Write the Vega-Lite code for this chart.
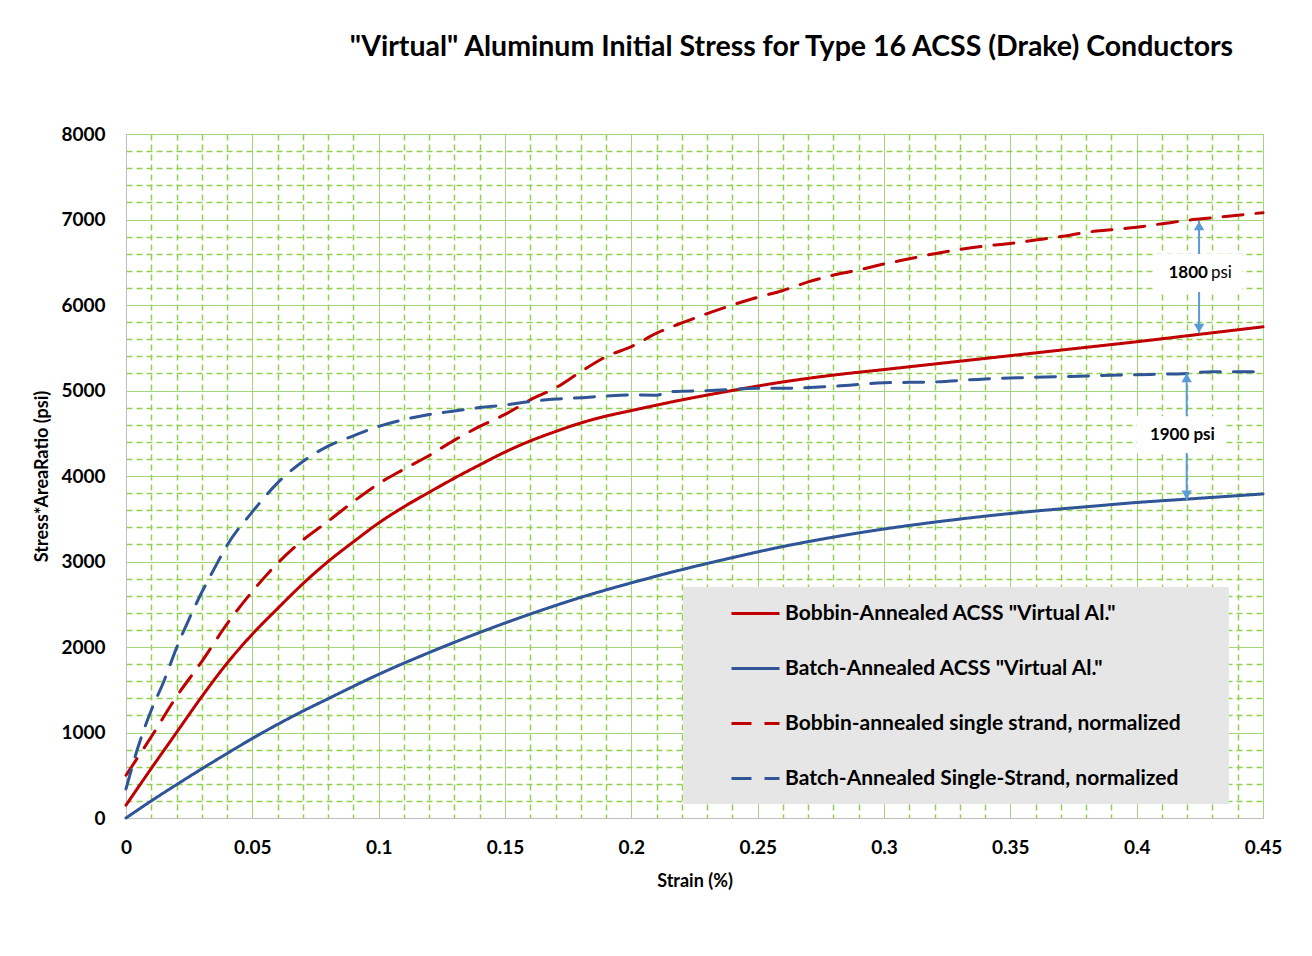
{
  "$schema": "https://vega.github.io/schema/vega-lite/v6.json",
  "width": 1137,
  "height": 684,
  "autosize": {"type": "none"},
  "padding": {"left": 126, "top": 134, "right": 49, "bottom": 138},
  "background": "white",
  "config": {
    "font": "Lato",
    "view": {"stroke": "#BFBFBF", "strokeWidth": 1}
  },
  "title": {
    "text": "\"Virtual\"  Aluminum Initial Stress for Type 16 ACSS (Drake) Conductors",
    "font": "Lato",
    "fontSize": 28.5,
    "fontWeight": "bold",
    "color": "#000000",
    "anchor": "middle",
    "frame": "group",
    "dx": 97,
    "offset": 41,
    "baseline": "alphabetic"
  },
  "datasets": {
    "legendBox": [
      {"strain": 0.2205, "strain2": 0.4365, "stress": 2702, "stress2": 164}
    ],
    "curves": [
      {"series": "Bobbin-Annealed ACSS \"Virtual Al.\"", "strain": 0, "stress": 150},
      {"series": "Bobbin-Annealed ACSS \"Virtual Al.\"", "strain": 0.01, "stress": 580},
      {"series": "Bobbin-Annealed ACSS \"Virtual Al.\"", "strain": 0.02, "stress": 1000},
      {"series": "Bobbin-Annealed ACSS \"Virtual Al.\"", "strain": 0.03, "stress": 1420},
      {"series": "Bobbin-Annealed ACSS \"Virtual Al.\"", "strain": 0.04, "stress": 1810},
      {"series": "Bobbin-Annealed ACSS \"Virtual Al.\"", "strain": 0.05, "stress": 2150},
      {"series": "Bobbin-Annealed ACSS \"Virtual Al.\"", "strain": 0.06, "stress": 2450},
      {"series": "Bobbin-Annealed ACSS \"Virtual Al.\"", "strain": 0.07, "stress": 2740},
      {"series": "Bobbin-Annealed ACSS \"Virtual Al.\"", "strain": 0.08, "stress": 3000},
      {"series": "Bobbin-Annealed ACSS \"Virtual Al.\"", "strain": 0.09, "stress": 3230},
      {"series": "Bobbin-Annealed ACSS \"Virtual Al.\"", "strain": 0.1, "stress": 3450},
      {"series": "Bobbin-Annealed ACSS \"Virtual Al.\"", "strain": 0.11, "stress": 3640},
      {"series": "Bobbin-Annealed ACSS \"Virtual Al.\"", "strain": 0.12, "stress": 3810},
      {"series": "Bobbin-Annealed ACSS \"Virtual Al.\"", "strain": 0.13, "stress": 3975},
      {"series": "Bobbin-Annealed ACSS \"Virtual Al.\"", "strain": 0.14, "stress": 4130},
      {"series": "Bobbin-Annealed ACSS \"Virtual Al.\"", "strain": 0.15, "stress": 4280},
      {"series": "Bobbin-Annealed ACSS \"Virtual Al.\"", "strain": 0.16, "stress": 4410},
      {"series": "Bobbin-Annealed ACSS \"Virtual Al.\"", "strain": 0.17, "stress": 4520},
      {"series": "Bobbin-Annealed ACSS \"Virtual Al.\"", "strain": 0.18, "stress": 4620},
      {"series": "Bobbin-Annealed ACSS \"Virtual Al.\"", "strain": 0.19, "stress": 4700},
      {"series": "Bobbin-Annealed ACSS \"Virtual Al.\"", "strain": 0.2, "stress": 4765},
      {"series": "Bobbin-Annealed ACSS \"Virtual Al.\"", "strain": 0.22, "stress": 4890},
      {"series": "Bobbin-Annealed ACSS \"Virtual Al.\"", "strain": 0.24, "stress": 5000},
      {"series": "Bobbin-Annealed ACSS \"Virtual Al.\"", "strain": 0.26, "stress": 5100},
      {"series": "Bobbin-Annealed ACSS \"Virtual Al.\"", "strain": 0.28, "stress": 5180},
      {"series": "Bobbin-Annealed ACSS \"Virtual Al.\"", "strain": 0.3, "stress": 5245},
      {"series": "Bobbin-Annealed ACSS \"Virtual Al.\"", "strain": 0.32, "stress": 5310},
      {"series": "Bobbin-Annealed ACSS \"Virtual Al.\"", "strain": 0.34, "stress": 5375},
      {"series": "Bobbin-Annealed ACSS \"Virtual Al.\"", "strain": 0.36, "stress": 5440},
      {"series": "Bobbin-Annealed ACSS \"Virtual Al.\"", "strain": 0.38, "stress": 5505},
      {"series": "Bobbin-Annealed ACSS \"Virtual Al.\"", "strain": 0.4, "stress": 5570},
      {"series": "Bobbin-Annealed ACSS \"Virtual Al.\"", "strain": 0.42, "stress": 5640},
      {"series": "Bobbin-Annealed ACSS \"Virtual Al.\"", "strain": 0.45, "stress": 5745},

      {"series": "Batch-Annealed ACSS \"Virtual Al.\"", "strain": 0, "stress": 0},
      {"series": "Batch-Annealed ACSS \"Virtual Al.\"", "strain": 0.01, "stress": 200},
      {"series": "Batch-Annealed ACSS \"Virtual Al.\"", "strain": 0.02, "stress": 390},
      {"series": "Batch-Annealed ACSS \"Virtual Al.\"", "strain": 0.03, "stress": 575},
      {"series": "Batch-Annealed ACSS \"Virtual Al.\"", "strain": 0.04, "stress": 755},
      {"series": "Batch-Annealed ACSS \"Virtual Al.\"", "strain": 0.05, "stress": 930},
      {"series": "Batch-Annealed ACSS \"Virtual Al.\"", "strain": 0.06, "stress": 1095},
      {"series": "Batch-Annealed ACSS \"Virtual Al.\"", "strain": 0.07, "stress": 1250},
      {"series": "Batch-Annealed ACSS \"Virtual Al.\"", "strain": 0.08, "stress": 1395},
      {"series": "Batch-Annealed ACSS \"Virtual Al.\"", "strain": 0.09, "stress": 1540},
      {"series": "Batch-Annealed ACSS \"Virtual Al.\"", "strain": 0.1, "stress": 1680},
      {"series": "Batch-Annealed ACSS \"Virtual Al.\"", "strain": 0.12, "stress": 1935},
      {"series": "Batch-Annealed ACSS \"Virtual Al.\"", "strain": 0.14, "stress": 2170},
      {"series": "Batch-Annealed ACSS \"Virtual Al.\"", "strain": 0.16, "stress": 2385},
      {"series": "Batch-Annealed ACSS \"Virtual Al.\"", "strain": 0.18, "stress": 2580},
      {"series": "Batch-Annealed ACSS \"Virtual Al.\"", "strain": 0.2, "stress": 2750},
      {"series": "Batch-Annealed ACSS \"Virtual Al.\"", "strain": 0.22, "stress": 2905},
      {"series": "Batch-Annealed ACSS \"Virtual Al.\"", "strain": 0.24, "stress": 3045},
      {"series": "Batch-Annealed ACSS \"Virtual Al.\"", "strain": 0.26, "stress": 3175},
      {"series": "Batch-Annealed ACSS \"Virtual Al.\"", "strain": 0.28, "stress": 3285},
      {"series": "Batch-Annealed ACSS \"Virtual Al.\"", "strain": 0.3, "stress": 3380},
      {"series": "Batch-Annealed ACSS \"Virtual Al.\"", "strain": 0.32, "stress": 3460},
      {"series": "Batch-Annealed ACSS \"Virtual Al.\"", "strain": 0.34, "stress": 3530},
      {"series": "Batch-Annealed ACSS \"Virtual Al.\"", "strain": 0.36, "stress": 3590},
      {"series": "Batch-Annealed ACSS \"Virtual Al.\"", "strain": 0.38, "stress": 3640},
      {"series": "Batch-Annealed ACSS \"Virtual Al.\"", "strain": 0.4, "stress": 3690},
      {"series": "Batch-Annealed ACSS \"Virtual Al.\"", "strain": 0.42, "stress": 3730},
      {"series": "Batch-Annealed ACSS \"Virtual Al.\"", "strain": 0.45, "stress": 3790},

      {"series": "Bobbin-annealed single strand, normalized", "strain": 0, "stress": 500},
      {"series": "Bobbin-annealed single strand, normalized", "strain": 0.01, "stress": 950},
      {"series": "Bobbin-annealed single strand, normalized", "strain": 0.02, "stress": 1420},
      {"series": "Bobbin-annealed single strand, normalized", "strain": 0.03, "stress": 1830},
      {"series": "Bobbin-annealed single strand, normalized", "strain": 0.04, "stress": 2270},
      {"series": "Bobbin-annealed single strand, normalized", "strain": 0.05, "stress": 2650},
      {"series": "Bobbin-annealed single strand, normalized", "strain": 0.06, "stress": 2980},
      {"series": "Bobbin-annealed single strand, normalized", "strain": 0.07, "stress": 3250},
      {"series": "Bobbin-annealed single strand, normalized", "strain": 0.08, "stress": 3470},
      {"series": "Bobbin-annealed single strand, normalized", "strain": 0.09, "stress": 3700},
      {"series": "Bobbin-annealed single strand, normalized", "strain": 0.1, "stress": 3910},
      {"series": "Bobbin-annealed single strand, normalized", "strain": 0.11, "stress": 4080},
      {"series": "Bobbin-annealed single strand, normalized", "strain": 0.12, "stress": 4240},
      {"series": "Bobbin-annealed single strand, normalized", "strain": 0.13, "stress": 4420},
      {"series": "Bobbin-annealed single strand, normalized", "strain": 0.14, "stress": 4580},
      {"series": "Bobbin-annealed single strand, normalized", "strain": 0.15, "stress": 4720},
      {"series": "Bobbin-annealed single strand, normalized", "strain": 0.16, "stress": 4890},
      {"series": "Bobbin-annealed single strand, normalized", "strain": 0.17, "stress": 5030},
      {"series": "Bobbin-annealed single strand, normalized", "strain": 0.18, "stress": 5220},
      {"series": "Bobbin-annealed single strand, normalized", "strain": 0.19, "stress": 5396},
      {"series": "Bobbin-annealed single strand, normalized", "strain": 0.2, "stress": 5513},
      {"series": "Bobbin-annealed single strand, normalized", "strain": 0.21, "stress": 5670},
      {"series": "Bobbin-annealed single strand, normalized", "strain": 0.22, "stress": 5790},
      {"series": "Bobbin-annealed single strand, normalized", "strain": 0.23, "stress": 5900},
      {"series": "Bobbin-annealed single strand, normalized", "strain": 0.24, "stress": 6000},
      {"series": "Bobbin-annealed single strand, normalized", "strain": 0.25, "stress": 6090},
      {"series": "Bobbin-annealed single strand, normalized", "strain": 0.26, "stress": 6170},
      {"series": "Bobbin-annealed single strand, normalized", "strain": 0.27, "stress": 6270},
      {"series": "Bobbin-annealed single strand, normalized", "strain": 0.28, "stress": 6350},
      {"series": "Bobbin-annealed single strand, normalized", "strain": 0.29, "stress": 6410},
      {"series": "Bobbin-annealed single strand, normalized", "strain": 0.3, "stress": 6480},
      {"series": "Bobbin-annealed single strand, normalized", "strain": 0.31, "stress": 6540},
      {"series": "Bobbin-annealed single strand, normalized", "strain": 0.32, "stress": 6600},
      {"series": "Bobbin-annealed single strand, normalized", "strain": 0.33, "stress": 6650},
      {"series": "Bobbin-annealed single strand, normalized", "strain": 0.34, "stress": 6690},
      {"series": "Bobbin-annealed single strand, normalized", "strain": 0.35, "stress": 6720},
      {"series": "Bobbin-annealed single strand, normalized", "strain": 0.36, "stress": 6760},
      {"series": "Bobbin-annealed single strand, normalized", "strain": 0.37, "stress": 6800},
      {"series": "Bobbin-annealed single strand, normalized", "strain": 0.38, "stress": 6850},
      {"series": "Bobbin-annealed single strand, normalized", "strain": 0.39, "stress": 6880},
      {"series": "Bobbin-annealed single strand, normalized", "strain": 0.4, "stress": 6910},
      {"series": "Bobbin-annealed single strand, normalized", "strain": 0.41, "stress": 6950},
      {"series": "Bobbin-annealed single strand, normalized", "strain": 0.42, "stress": 6990},
      {"series": "Bobbin-annealed single strand, normalized", "strain": 0.43, "stress": 7020},
      {"series": "Bobbin-annealed single strand, normalized", "strain": 0.44, "stress": 7050},
      {"series": "Bobbin-annealed single strand, normalized", "strain": 0.45, "stress": 7080},

      {"series": "Batch-Annealed Single-Strand, normalized", "strain": 0, "stress": 340},
      {"series": "Batch-Annealed Single-Strand, normalized", "strain": 0.005, "stress": 850},
      {"series": "Batch-Annealed Single-Strand, normalized", "strain": 0.01, "stress": 1260},
      {"series": "Batch-Annealed Single-Strand, normalized", "strain": 0.015, "stress": 1600},
      {"series": "Batch-Annealed Single-Strand, normalized", "strain": 0.02, "stress": 1990},
      {"series": "Batch-Annealed Single-Strand, normalized", "strain": 0.025, "stress": 2330},
      {"series": "Batch-Annealed Single-Strand, normalized", "strain": 0.03, "stress": 2640},
      {"series": "Batch-Annealed Single-Strand, normalized", "strain": 0.035, "stress": 2920},
      {"series": "Batch-Annealed Single-Strand, normalized", "strain": 0.04, "stress": 3190},
      {"series": "Batch-Annealed Single-Strand, normalized", "strain": 0.05, "stress": 3580},
      {"series": "Batch-Annealed Single-Strand, normalized", "strain": 0.06, "stress": 3920},
      {"series": "Batch-Annealed Single-Strand, normalized", "strain": 0.07, "stress": 4170},
      {"series": "Batch-Annealed Single-Strand, normalized", "strain": 0.08, "stress": 4350},
      {"series": "Batch-Annealed Single-Strand, normalized", "strain": 0.09, "stress": 4470},
      {"series": "Batch-Annealed Single-Strand, normalized", "strain": 0.1, "stress": 4580},
      {"series": "Batch-Annealed Single-Strand, normalized", "strain": 0.11, "stress": 4660},
      {"series": "Batch-Annealed Single-Strand, normalized", "strain": 0.12, "stress": 4720},
      {"series": "Batch-Annealed Single-Strand, normalized", "strain": 0.13, "stress": 4760},
      {"series": "Batch-Annealed Single-Strand, normalized", "strain": 0.14, "stress": 4800},
      {"series": "Batch-Annealed Single-Strand, normalized", "strain": 0.15, "stress": 4830},
      {"series": "Batch-Annealed Single-Strand, normalized", "strain": 0.16, "stress": 4870},
      {"series": "Batch-Annealed Single-Strand, normalized", "strain": 0.17, "stress": 4900},
      {"series": "Batch-Annealed Single-Strand, normalized", "strain": 0.18, "stress": 4915},
      {"series": "Batch-Annealed Single-Strand, normalized", "strain": 0.19, "stress": 4935},
      {"series": "Batch-Annealed Single-Strand, normalized", "strain": 0.2, "stress": 4947},
      {"series": "Batch-Annealed Single-Strand, normalized", "strain": 0.21, "stress": 4945},
      {"series": "Batch-Annealed Single-Strand, normalized", "strain": 0.215, "stress": 4985},
      {"series": "Batch-Annealed Single-Strand, normalized", "strain": 0.23, "stress": 4998},
      {"series": "Batch-Annealed Single-Strand, normalized", "strain": 0.25, "stress": 5025},
      {"series": "Batch-Annealed Single-Strand, normalized", "strain": 0.26, "stress": 5025},
      {"series": "Batch-Annealed Single-Strand, normalized", "strain": 0.28, "stress": 5050},
      {"series": "Batch-Annealed Single-Strand, normalized", "strain": 0.3, "stress": 5090},
      {"series": "Batch-Annealed Single-Strand, normalized", "strain": 0.32, "stress": 5100},
      {"series": "Batch-Annealed Single-Strand, normalized", "strain": 0.34, "stress": 5135},
      {"series": "Batch-Annealed Single-Strand, normalized", "strain": 0.36, "stress": 5155},
      {"series": "Batch-Annealed Single-Strand, normalized", "strain": 0.38, "stress": 5170},
      {"series": "Batch-Annealed Single-Strand, normalized", "strain": 0.4, "stress": 5185},
      {"series": "Batch-Annealed Single-Strand, normalized", "strain": 0.42, "stress": 5200},
      {"series": "Batch-Annealed Single-Strand, normalized", "strain": 0.43, "stress": 5220},
      {"series": "Batch-Annealed Single-Strand, normalized", "strain": 0.45, "stress": 5220}
    ],
    "arrows": [
      {"strain": 0.4247, "stress": 5669, "stress2": 6986},
      {"strain": 0.4198, "stress": 3719, "stress2": 5208}
    ],
    "tipsUp": [
      {"strain": 0.4247, "stress": 6986},
      {"strain": 0.4198, "stress": 5208}
    ],
    "tipsDown": [
      {"strain": 0.4247, "stress": 5669},
      {"strain": 0.4198, "stress": 3719}
    ],
    "boxes": [
      {"strain": 0.4076, "strain2": 0.4417, "stress": 6152, "stress2": 6596},
      {"strain": 0.4001, "strain2": 0.4342, "stress": 4269, "stress2": 4700}
    ],
    "boldRight": [
      {"strain": 0.4282, "stress": 6371, "label": "1800"}
    ],
    "plainLeft": [
      {"strain": 0.4294, "stress": 6371, "label": "psi"}
    ],
    "boldCenter": [
      {"strain": 0.4181, "stress": 4480, "label": "1900 psi"}
    ]
  },
  "encoding": {
    "x": {
      "field": "strain",
      "type": "quantitative",
      "scale": {"domain": [0, 0.45], "nice": false, "zero": false},
      "axis": {
        "title": "Strain (%)",
        "titleFont": "Lato",
        "titleFontSize": 18,
        "titleFontWeight": "bold",
        "titleColor": "#000000",
        "titlePadding": 15,
        "values": [0, 0.01, 0.02, 0.03, 0.04, 0.05, 0.06, 0.07, 0.08, 0.09, 0.1, 0.11, 0.12, 0.13, 0.14, 0.15, 0.16, 0.17, 0.18, 0.19, 0.2, 0.21, 0.22, 0.23, 0.24, 0.25, 0.26, 0.27, 0.28, 0.29, 0.3, 0.31, 0.32, 0.33, 0.34, 0.35, 0.36, 0.37, 0.38, 0.39, 0.4, 0.41, 0.42, 0.43, 0.44, 0.45],
        "format": ".2~f",
        "labelExpr": "abs(datum.value / 0.05 - round(datum.value / 0.05)) < 0.001 ? datum.label : ''",
        "labelFont": "Lato",
        "labelFontSize": 19,
        "labelFontWeight": "bold",
        "labelColor": "#000000",
        "labelPadding": 20,
        "labelOverlap": false,
        "labelFlush": false,
        "ticks": false,
        "domainColor": "#BFBFBF",
        "grid": true,
        "gridColor": {"condition": {"test": "abs(datum.value / 0.05 - round(datum.value / 0.05)) < 0.001", "value": "#A3D67A"}, "value": "#92D050"},
        "gridWidth": {"condition": {"test": "abs(datum.value / 0.05 - round(datum.value / 0.05)) < 0.001", "value": 1}, "value": 1.5},
        "gridDash": {"condition": {"test": "abs(datum.value / 0.05 - round(datum.value / 0.05)) < 0.001", "value": []}, "value": [6, 4]}
      }
    },
    "y": {
      "field": "stress",
      "type": "quantitative",
      "scale": {"domain": [0, 8000], "nice": false, "zero": true},
      "axis": {
        "title": "Stress*AreaRatio (psi)",
        "titleFont": "Lato",
        "titleFontSize": 18,
        "titleFontWeight": "bold",
        "titleColor": "#000000",
        "titlePadding": 9,
        "values": [0, 200, 400, 600, 800, 1000, 1200, 1400, 1600, 1800, 2000, 2200, 2400, 2600, 2800, 3000, 3200, 3400, 3600, 3800, 4000, 4200, 4400, 4600, 4800, 5000, 5200, 5400, 5600, 5800, 6000, 6200, 6400, 6600, 6800, 7000, 7200, 7400, 7600, 7800, 8000],
        "format": "d",
        "labelExpr": "datum.value % 1000 == 0 ? datum.label : ''",
        "labelFont": "Lato",
        "labelFontSize": 19,
        "labelFontWeight": "bold",
        "labelColor": "#000000",
        "labelPadding": 21,
        "labelOverlap": false,
        "labelFlush": false,
        "ticks": false,
        "domainColor": "#BFBFBF",
        "grid": true,
        "gridColor": {"condition": {"test": "datum.value % 1000 == 0", "value": "#A3D67A"}, "value": "#92D050"},
        "gridWidth": {"condition": {"test": "datum.value % 1000 == 0", "value": 1}, "value": 1.5},
        "gridDash": {"condition": {"test": "datum.value % 1000 == 0", "value": []}, "value": [6, 4]}
      }
    }
  },
  "layer": [
    {
      "data": {"name": "legendBox"},
      "mark": {"type": "rect", "fill": "#E6E6E6"},
      "encoding": {"x2": {"field": "strain2"}, "y2": {"field": "stress2"}}
    },
    {
      "data": {"name": "curves"},
      "mark": {"type": "line", "strokeWidth": 3, "strokeCap": "round", "interpolate": "monotone"},
      "encoding": {
        "color": {
          "field": "series",
          "type": "nominal",
          "scale": {
            "domain": ["Bobbin-Annealed ACSS \"Virtual Al.\"", "Batch-Annealed ACSS \"Virtual Al.\"", "Bobbin-annealed single strand, normalized", "Batch-Annealed Single-Strand, normalized"],
            "range": ["#C00000", "#2F5597", "#C00000", "#2F5597"]
          },
          "legend": {
            "title": null,
            "orient": "none",
            "legendX": 604,
            "legendY": 454,
            "padding": 0,
            "symbolType": "stroke",
            "symbolSize": 2304,
            "symbolStrokeWidth": 3,
            "symbolOffset": 0,
            "labelOffset": 4,
            "labelFont": "Lato",
            "labelFontSize": 21,
            "labelFontWeight": "bold",
            "labelColor": "#000000",
            "labelLimit": 600,
            "rowPadding": 19
          }
        },
        "strokeDash": {
          "field": "series",
          "type": "nominal",
          "scale": {
            "domain": ["Bobbin-Annealed ACSS \"Virtual Al.\"", "Batch-Annealed ACSS \"Virtual Al.\"", "Bobbin-annealed single strand, normalized", "Batch-Annealed Single-Strand, normalized"],
            "range": [[1, 0], [1, 0], [20, 13], [20, 13]]
          }
        }
      }
    },
    {
      "data": {"name": "arrows"},
      "mark": {"type": "rule", "color": "#5B9BD5", "strokeWidth": 2},
      "encoding": {"y2": {"field": "stress2"}}
    },
    {
      "data": {"name": "tipsUp"},
      "mark": {"type": "point", "shape": "triangle-up", "filled": true, "color": "#5B9BD5", "size": 110, "opacity": 1, "yOffset": 5},
      "encoding": {}
    },
    {
      "data": {"name": "tipsDown"},
      "mark": {"type": "point", "shape": "triangle-down", "filled": true, "color": "#5B9BD5", "size": 110, "opacity": 1, "yOffset": -5},
      "encoding": {}
    },
    {
      "data": {"name": "boxes"},
      "mark": {"type": "rect", "fill": "#FFFFFF"},
      "encoding": {"x2": {"field": "strain2"}, "y2": {"field": "stress2"}}
    },
    {
      "data": {"name": "boldRight"},
      "mark": {"type": "text", "font": "Lato", "fontSize": 17, "fontWeight": "bold", "align": "right", "baseline": "middle", "color": "#000000"},
      "encoding": {"text": {"field": "label"}}
    },
    {
      "data": {"name": "plainLeft"},
      "mark": {"type": "text", "font": "Lato", "fontSize": 17, "fontWeight": "normal", "align": "left", "baseline": "middle", "color": "#000000"},
      "encoding": {"text": {"field": "label"}}
    },
    {
      "data": {"name": "boldCenter"},
      "mark": {"type": "text", "font": "Lato", "fontSize": 17, "fontWeight": "bold", "align": "center", "baseline": "middle", "color": "#000000"},
      "encoding": {"text": {"field": "label"}}
    }
  ]
}
